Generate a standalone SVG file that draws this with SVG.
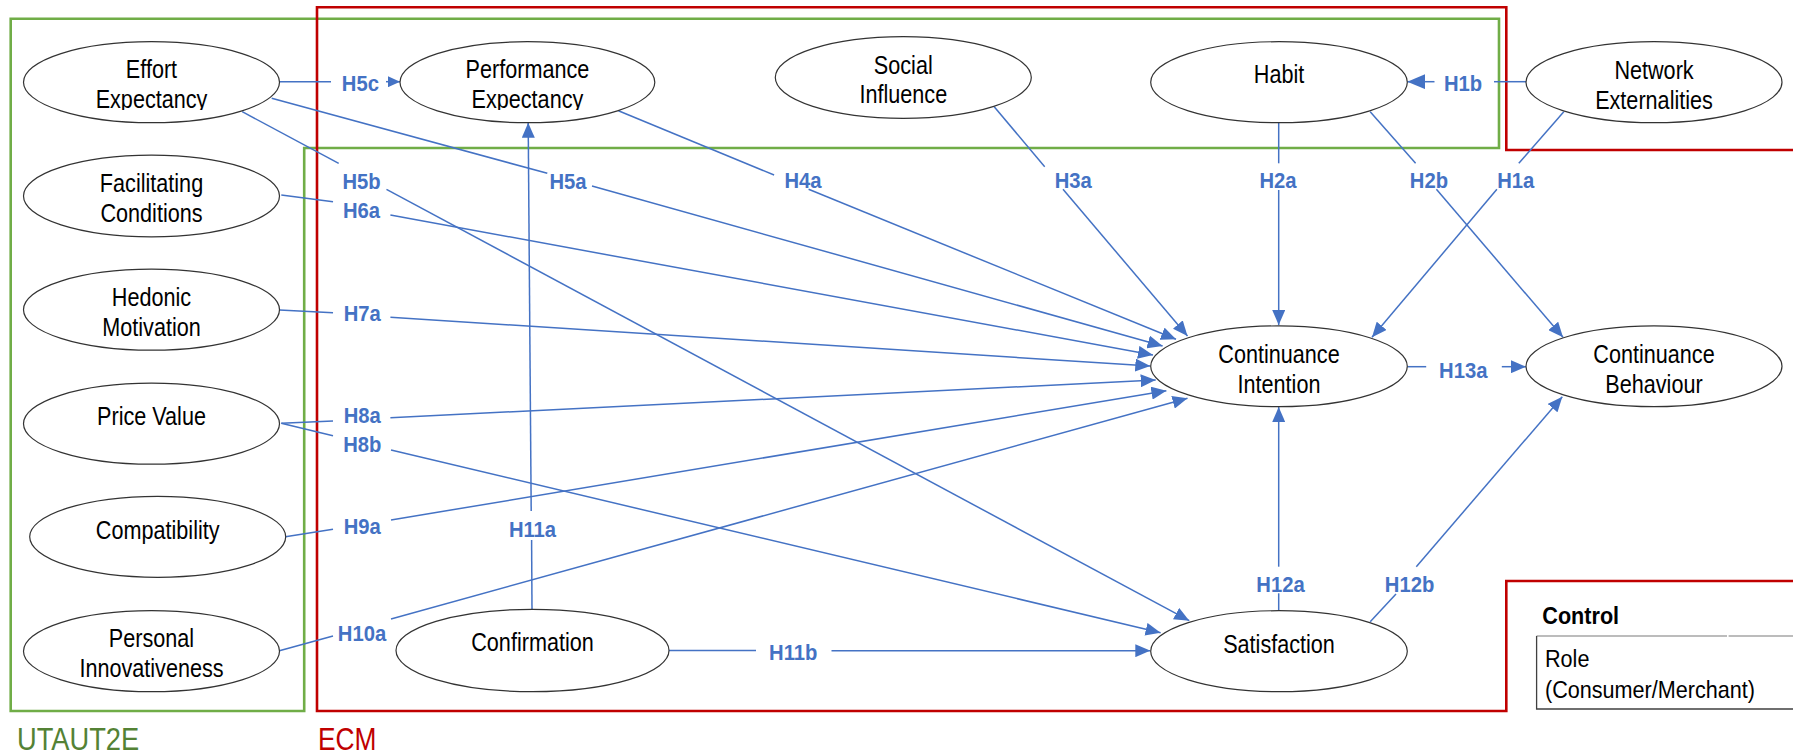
<svg xmlns="http://www.w3.org/2000/svg" width="1793" height="755" viewBox="0 0 1793 755">
  <style>
    .frame { fill: none; stroke-width: 2.6; }
    .node { fill: #fff; stroke: #333; stroke-width: 1.2; }
    .nt { font-family: "Liberation Sans", Arial, sans-serif; font-size: 25px; fill: #000; text-anchor: middle; }
    .edge { fill: none; stroke: #4472C4; stroke-width: 1.5; }
    .hl { font-family: "Liberation Sans", Arial, sans-serif; font-size: 22px; font-weight: bold; fill: #4472C4; text-anchor: middle; }
    .grp { font-family: "Liberation Sans", Arial, sans-serif; font-size: 31px; }
    .ctl { font-family: "Liberation Sans", Arial, sans-serif; font-size: 24px; fill: #000; }
  </style>
  <defs>
    <marker id="ah" markerUnits="userSpaceOnUse" markerWidth="15" markerHeight="13" refX="15" refY="6.5" orient="auto">
      <path d="M0,0 L15,6.5 L0,13 z" fill="#4472C4"/>
    </marker>
    <marker id="ahs" markerUnits="userSpaceOnUse" markerWidth="12" markerHeight="11" refX="12" refY="5.5" orient="auto">
      <path d="M0,0 L12,5.5 L0,11 z" fill="#4472C4"/>
    </marker>
    <marker id="ahl" markerUnits="userSpaceOnUse" markerWidth="18" markerHeight="15" refX="18" refY="7.5" orient="auto">
      <path d="M0,0 L18,7.5 L0,15 z" fill="#4472C4"/>
    </marker>
    <!-- the lower line of these two labels is cut at the bottom of its text box -->
    <clipPath id="clipEE"><rect x="20" y="40" width="265" height="70"/></clipPath>
    <clipPath id="clipPE"><rect x="398" y="40" width="260" height="70"/></clipPath>
  </defs>

  <!-- model frames -->
  <g id="frames">
    <path class="frame" stroke="#70AD47" d="M10.7,18.7 H1499 V148 H304.2 V711 H10.7 Z"/>
    <path class="frame" stroke="#C00000" d="M1795,150 H1506.3 V7.3 H317 V711 H1506.3 V581 H1795"/>
    <text class="grp" fill="#548235" transform="translate(17,750) scale(0.88,1)">UTAUT2E</text>
    <text class="grp" fill="#C00000" transform="translate(318,750) scale(0.85,1)">ECM</text>
  </g>

  <!-- hypothesised paths -->
  <g id="connectors">
    <g id="e-H5c">
      <path class="edge" d="M279.4,81.7 L331,81.7"/>
      <path class="edge" d="M386,81.7 L400,81.7" marker-end="url(#ahs)"/>
      <text class="hl" transform="translate(360.4,91) scale(0.92,1)">H5c</text>
    </g>
    <g id="e-H5b">
      <path class="edge" d="M242.2,111.7 L338.7,163.3"/>
      <path class="edge" d="M386.5,189.3 L1189.3,620.7" marker-end="url(#ah)"/>
      <text class="hl" transform="translate(361.5,189) scale(0.92,1)">H5b</text>
    </g>
    <g id="e-H5a">
      <path class="edge" d="M271.7,98.3 L547.3,173.3"/>
      <path class="edge" d="M592,186 L1162.6,346" marker-end="url(#ah)"/>
      <text class="hl" transform="translate(568,189) scale(0.92,1)">H5a</text>
    </g>
    <g id="e-H6a">
      <path class="edge" d="M281.3,195 L333,201.7"/>
      <path class="edge" d="M390.4,215 L1153,355" marker-end="url(#ah)"/>
      <text class="hl" transform="translate(361.5,218) scale(0.92,1)">H6a</text>
    </g>
    <g id="e-H4a">
      <path class="edge" d="M618.4,110.7 L774.1,175"/>
      <path class="edge" d="M808.6,189.3 L1176,339.3" marker-end="url(#ah)"/>
      <text class="hl" transform="translate(803,188) scale(0.92,1)">H4a</text>
    </g>
    <g id="e-H3a">
      <path class="edge" d="M994.2,106.7 L1044.7,166.7"/>
      <path class="edge" d="M1063,189.3 L1187.5,336" marker-end="url(#ah)"/>
      <text class="hl" transform="translate(1073.2,188) scale(0.92,1)">H3a</text>
    </g>
    <g id="e-H2a">
      <path class="edge" d="M1278.7,122.7 V163.3"/>
      <path class="edge" d="M1278.7,190 V325" marker-end="url(#ah)"/>
      <text class="hl" transform="translate(1278,188) scale(0.92,1)">H2a</text>
    </g>
    <g id="e-H2b">
      <path class="edge" d="M1370.2,111.7 L1415.6,163.3"/>
      <path class="edge" d="M1436.4,189.3 L1563,337.3" marker-end="url(#ah)"/>
      <text class="hl" transform="translate(1428.9,188) scale(0.92,1)">H2b</text>
    </g>
    <g id="e-H1a">
      <path class="edge" d="M1563.8,111.7 L1518.8,163.3"/>
      <path class="edge" d="M1496.9,189.3 L1372,337.3" marker-end="url(#ah)"/>
      <text class="hl" transform="translate(1515.8,188) scale(0.92,1)">H1a</text>
    </g>
    <g id="e-H1b">
      <path class="edge" d="M1526,81.7 L1494,81.7"/>
      <path class="edge" d="M1434.5,81.7 L1407.3,81.7" marker-end="url(#ahl)"/>
      <text class="hl" transform="translate(1463,91) scale(0.92,1)">H1b</text>
    </g>
    <g id="e-H7a">
      <path class="edge" d="M279.4,310 L333,312.7"/>
      <path class="edge" d="M390.4,317.3 L1150.3,366" marker-end="url(#ah)"/>
      <text class="hl" transform="translate(362.3,320.7) scale(0.92,1)">H7a</text>
    </g>
    <g id="e-H8a">
      <path class="edge" d="M281.3,423.3 L333,421"/>
      <path class="edge" d="M390.4,417.7 L1155.7,380" marker-end="url(#ah)"/>
      <text class="hl" transform="translate(362.3,423) scale(0.92,1)">H8a</text>
    </g>
    <g id="e-H8b">
      <path class="edge" d="M281.3,423.3 L333,435.7"/>
      <path class="edge" d="M391,450 L1160.6,632.7" marker-end="url(#ah)"/>
      <text class="hl" transform="translate(362.3,451.5) scale(0.92,1)">H8b</text>
    </g>
    <g id="e-H9a">
      <path class="edge" d="M285.5,536.7 L333,529.3"/>
      <path class="edge" d="M391,520 L1166.4,390.7" marker-end="url(#ah)"/>
      <text class="hl" transform="translate(362.3,534) scale(0.92,1)">H9a</text>
    </g>
    <g id="e-H10a">
      <path class="edge" d="M279.4,650.7 L333,636"/>
      <path class="edge" d="M391,619 L1187.5,398.3" marker-end="url(#ah)"/>
      <text class="hl" transform="translate(362,640.7) scale(0.92,1)">H10a</text>
    </g>
    <g id="e-H11a">
      <path class="edge" d="M532,609.3 L531.6,540"/>
      <path class="edge" d="M531.2,511 L528.2,122.7" marker-end="url(#ah)"/>
      <text class="hl" transform="translate(532.5,536.5) scale(0.92,1)">H11a</text>
    </g>
    <g id="e-H11b">
      <path class="edge" d="M668.9,650.5 L756,650.5"/>
      <path class="edge" d="M831.5,650.7 L1150.3,650.7" marker-end="url(#ah)"/>
      <text class="hl" transform="translate(793.2,660) scale(0.92,1)">H11b</text>
    </g>
    <g id="e-H12a">
      <path class="edge" d="M1278.7,610 V593.3"/>
      <path class="edge" d="M1278.7,566.7 V407" marker-end="url(#ah)"/>
      <text class="hl" transform="translate(1280.5,591.7) scale(0.92,1)">H12a</text>
    </g>
    <g id="e-H12b">
      <path class="edge" d="M1370.2,621.7 L1396,594"/>
      <path class="edge" d="M1416.3,566.7 L1562.3,396.7" marker-end="url(#ah)"/>
      <text class="hl" transform="translate(1409.5,591.7) scale(0.92,1)">H12b</text>
    </g>
    <g id="e-H13a">
      <path class="edge" d="M1407.3,366.7 L1426.2,366.7"/>
      <path class="edge" d="M1501.8,366.7 L1526,366.7" marker-end="url(#ah)"/>
      <text class="hl" transform="translate(1463.2,378) scale(0.92,1)">H13a</text>
    </g>
  </g>

  <!-- constructs -->
  <g id="n-effort">
    <ellipse class="node" cx="151.5" cy="82.2" rx="128" ry="40.5"/>
    <g clip-path="url(#clipEE)">
      <text class="nt" transform="translate(151.5,82.2) scale(0.865,1)"><tspan x="0" y="-4">Effort</tspan><tspan x="0" y="26">Expectancy</tspan></text>
    </g>
  </g>
  <g id="n-performance">
    <ellipse class="node" cx="527.4" cy="82.2" rx="127.4" ry="40.5"/>
    <g clip-path="url(#clipPE)">
      <text class="nt" transform="translate(527.4,82.2) scale(0.865,1)"><tspan x="0" y="-4">Performance</tspan><tspan x="0" y="26">Expectancy</tspan></text>
    </g>
  </g>
  <g id="n-social">
    <ellipse class="node" cx="903.3" cy="77.5" rx="128" ry="40.8"/>
    <text class="nt" transform="translate(903.3,77.5) scale(0.865,1)"><tspan x="0" y="-4">Social</tspan><tspan x="0" y="26">Influence</tspan></text>
  </g>
  <g id="n-habit">
    <ellipse class="node" cx="1279" cy="82.2" rx="128.3" ry="40.5"/>
    <text class="nt" transform="translate(1279,83) scale(0.865,1)">Habit</text>
  </g>
  <g id="n-network">
    <ellipse class="node" cx="1654" cy="82.2" rx="128" ry="40.5"/>
    <text class="nt" transform="translate(1654,82.2) scale(0.865,1)"><tspan x="0" y="-3">Network</tspan><tspan x="0" y="27">Externalities</tspan></text>
  </g>
  <g id="n-facilitating">
    <ellipse class="node" cx="151.5" cy="196" rx="128" ry="40.8"/>
    <text class="nt" transform="translate(151.5,196) scale(0.865,1)"><tspan x="0" y="-4">Facilitating</tspan><tspan x="0" y="26">Conditions</tspan></text>
  </g>
  <g id="n-hedonic">
    <ellipse class="node" cx="151.5" cy="309.7" rx="128" ry="40.5"/>
    <text class="nt" transform="translate(151.5,309.7) scale(0.865,1)"><tspan x="0" y="-4">Hedonic</tspan><tspan x="0" y="26">Motivation</tspan></text>
  </g>
  <g id="n-price">
    <ellipse class="node" cx="151.5" cy="423.7" rx="128" ry="40.5"/>
    <text class="nt" transform="translate(151.5,424.5) scale(0.865,1)">Price Value</text>
  </g>
  <g id="n-compatibility">
    <ellipse class="node" cx="157.7" cy="536.8" rx="128" ry="40.5"/>
    <text class="nt" transform="translate(157.7,538.5) scale(0.865,1)">Compatibility</text>
  </g>
  <g id="n-innovativeness">
    <ellipse class="node" cx="151.5" cy="651.2" rx="128" ry="40.5"/>
    <text class="nt" transform="translate(151.5,651.2) scale(0.865,1)"><tspan x="0" y="-4">Personal</tspan><tspan x="0" y="25.5">Innovativeness</tspan></text>
  </g>
  <g id="n-confirmation">
    <ellipse class="node" cx="532.5" cy="650.5" rx="136.5" ry="41.2"/>
    <text class="nt" transform="translate(532.5,651) scale(0.865,1)">Confirmation</text>
  </g>
  <g id="n-intention">
    <ellipse class="node" cx="1279" cy="366.3" rx="128.3" ry="40.4"/>
    <text class="nt" transform="translate(1279,366.3) scale(0.865,1)"><tspan x="0" y="-3">Continuance</tspan><tspan x="0" y="27">Intention</tspan></text>
  </g>
  <g id="n-behaviour">
    <ellipse class="node" cx="1654" cy="366.3" rx="128" ry="40.4"/>
    <text class="nt" transform="translate(1654,366.3) scale(0.865,1)"><tspan x="0" y="-3">Continuance</tspan><tspan x="0" y="27">Behaviour</tspan></text>
  </g>
  <g id="n-satisfaction">
    <ellipse class="node" cx="1279" cy="651.2" rx="128.3" ry="40.5"/>
    <text class="nt" transform="translate(1279,652.5) scale(0.865,1)">Satisfaction</text>
  </g>

  <!-- control variable table -->
  <g id="control">
    <text class="ctl" font-weight="bold" transform="translate(1542.3,624) scale(0.9,1)">Control</text>
    <path d="M1536.6,636 H1727 M1728.6,636 H1793" fill="none" stroke="#a6a6a6" stroke-width="1.6"/>
    <path d="M1536.6,636 V709 H1793" fill="none" stroke="#404040" stroke-width="1.3"/>
    <text class="ctl" transform="translate(1545,666.7) scale(0.9,1)">Role</text>
    <text class="ctl" transform="translate(1545,698.3) scale(0.9,1)">(Consumer/Merchant)</text>
  </g>
</svg>
